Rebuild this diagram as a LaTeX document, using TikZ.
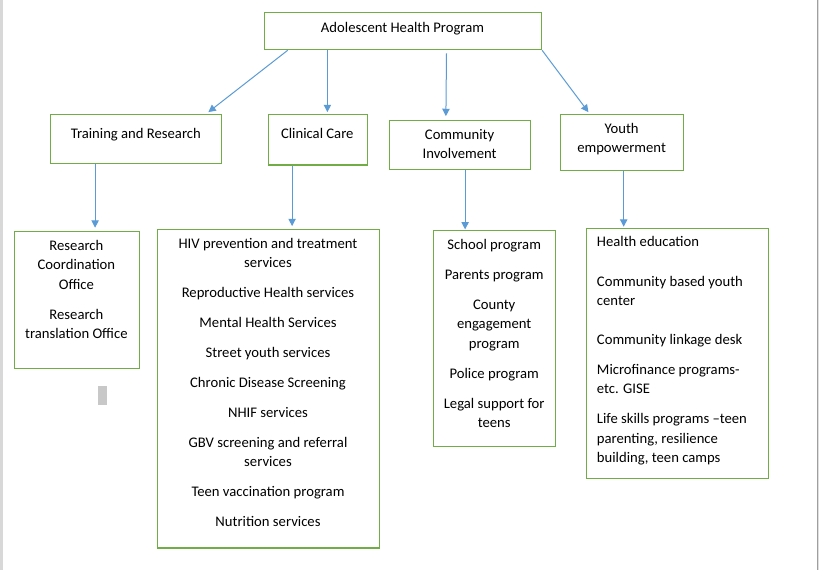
\documentclass[tikz,border=0pt]{standalone}
\usepackage{fontspec}
\setmainfont{Carlito}
\usetikzlibrary{arrows.meta,fit,calc}
\definecolor{boxgreen}{HTML}{70AD47}
\definecolor{arrblue}{HTML}{5B9BD5}
\definecolor{pageedge}{HTML}{C8C8C8}
\newcommand{\pg}{\\[8.1pt]}
\newcommand{\bg}{\\[15.2pt]}
\tikzset{
  box/.style={draw=boxgreen, line width=0.9pt, inner sep=0pt, fill=none},
  txt/.style={inner sep=0pt, align=center, font=\fontsize{11}{14.4}\selectfont, anchor=base},
  txtl/.style={inner sep=0pt, align=left, font=\fontsize{11}{14.4}\selectfont, anchor=base west},
  arr/.style={draw=arrblue, line width=0.75pt, -{Triangle[length=5.5pt,width=5.5pt]}}
}
\begin{document}
\begin{tikzpicture}[x=0.75pt,y=-0.75pt]
\useasboundingbox (0,0) rectangle (819,570);
\fill[white] (0,0) rectangle (819,570);
% page edges
\fill[pageedge!70] (0,0) rectangle (2.5,570);
\fill[gray!75] (816.5,0) rectangle (817.8,570);
\fill[gray!25] (817.8,0) rectangle (819,570);
\fill[pageedge] (98,386) rectangle (107,405);

% boxes
\node[box, fit={(264.2,12.3)(541.5,49.7)}] (top) {};
\node[box, fit={(50.3,114.3)(221.7,163.3)}] (tr) {};
\node[box, fit={(268.3,114.3)(367.3,165)}] (cc) {};
\node[box, fit={(389.3,120.7)(530.7,169.3)}] (ci) {};
\node[box, fit={(560.3,114.7)(683.3,170.3)}] (ye) {};
\node[box, fit={(14.3,231.7)(139.3,368.3)}] (rs) {};
\node[box, fit={(157.3,229.3)(379.3,548)}] (cl) {};
\node[box, fit={(433.3,230.7)(555.7,446.3)}] (cm) {};
\node[box, fit={(586.7,228.7)(768.7,478.3)}] (yl) {};

% texts (base anchor = baseline of the last line)
\node[txt] (ttop) at (402.5,32.5) {Adolescent Health Program};
\node[txt] (ttr) at (135.8,138.3) {Training and Research};
\node[txt] (tcc) at (317.3,138.3) {Clinical Care};
\node[txt] (tci) at (459.6,159) {Community\\Involvement};
\node[txt] (tye) at (621.6,152.3) {Youth\\empowerment};
\node[txt] (trs) at (76.4,338.3) {Research\\Coordination\\Office\pg Research\\translation Office};
\node[txt] (tcl) at (268,526.7) {HIV prevention and treatment\\services\pg Reproductive Health services\pg Mental Health Services\pg Street youth services\pg Chronic Disease Screening\pg NHIF services\pg GBV screening and referral\\services\pg Teen vaccination program\pg Nutrition services};
\node[txt] (tcm) at (494.2,427.3) {School program\pg Parents program\pg County\\engagement\\program\pg Police program\pg Legal support for\\teens};
\node[txtl] (tyl) at (596.7,462.3) {Health education\bg Community based youth\\center\bg Community linkage desk\pg Microfinance programs-\\etc. GISE\pg Life skills programs –teen\\parenting, resilience\\building, teen camps};

% connectors
\coordinate (c3) at (446.5,53.3);
\draw[arr] ($(top.south west)+(24.1,0)$) -- ($(tr.north east)+(-13.9,-1.6)$);
\draw[arr] ($(top.south west)+(63.8,0)$) -- ($(cc.north west)+(59.7,-1.6)$);
\draw[arr] (c3) -- ($(ci.north west)+(57.2,-4)$);
\draw[arr] (top.south east) -- ($(ye.north west)+(28.7,-2)$);
\draw[arr] ($(tr.south west)+(45.4,0)$) -- ($(rs.north west)+(81.4,-3.4)$);
\draw[arr] ($(cc.south west)+(24.4,0)$) -- ($(cl.north west)+(135.4,-2.6)$);
\draw[arr] ($(ci.south west)+(76.4,0)$) -- ($(cm.north west)+(32.4,-0.7)$);
\draw[arr] ($(ye.south west)+(64,0)$) -- ($(yl.north west)+(37.6,-1.4)$);
\end{tikzpicture}
\end{document}
